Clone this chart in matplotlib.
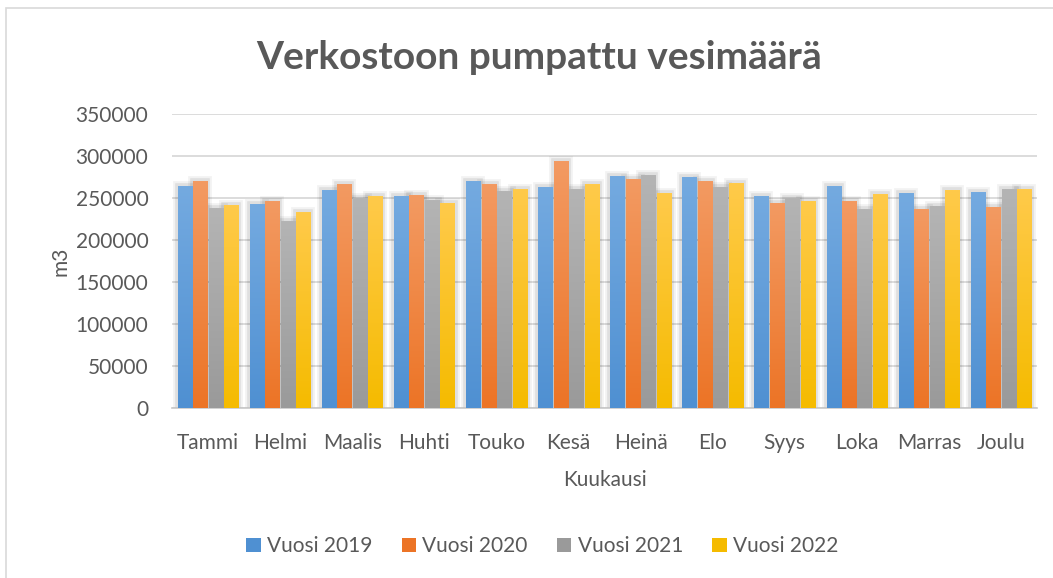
import numpy as np
import matplotlib.pyplot as plt
import matplotlib.patheffects as pe
from matplotlib.colors import LinearSegmentedColormap
from matplotlib.patches import Patch, Rectangle

############################################################
# Data
############################################################
months = ["Tammi", "Helmi", "Maalis", "Huhti", "Touko", "Kesä",
          "Heinä", "Elo", "Syys", "Loka", "Marras", "Joulu"]
series = ["Vuosi 2019", "Vuosi 2020", "Vuosi 2021", "Vuosi 2022"]

v2019 = [263900, 242500, 259200, 252000, 269900, 262700,
         275800, 274700, 252000, 263900, 255600, 256800]
v2020 = [269900, 246100, 266300, 253200, 266300, 293700,
         272300, 269900, 243700, 246100, 236600, 238900]
v2021 = [237700, 222300, 249600, 247300, 258000, 260400,
         277000, 262700, 249600, 236600, 240100, 260400]
v2022 = [241300, 233000, 252000, 243700, 260400, 266300,
         255600, 267500, 246100, 254400, 259200, 260400]

yticks = [0, 50000, 100000, 150000, 200000, 250000, 300000, 350000]

# (top colour, bottom colour) for the Excel style gradient
grad = [("#74aae0", "#4f90d2"),
        ("#f39a62", "#ec7426"),
        ("#b4b4b4", "#9a9a9a"),
        ("#ffca4a", "#f5bb00")]

plt.rcParams['font.family'] = ['Lato', 'DejaVu Sans']
txt = "#595959"

fig = plt.figure(figsize=(10.53, 5.78), dpi=100)
ax = fig.add_axes([0.1633, 0.2941, 0.8215, 0.5087])

# chart border (left / top visible)
fig.patches.append(Rectangle((6 / 1053, -0.5), 2, 1.5 - 8 / 578,
                             transform=fig.transFigure, fill=False,
                             edgecolor="#d9d9d9", lw=1.2))

x = np.arange(len(months))
step = 0.215
width = 0.195
data = [v2019, v2020, v2021, v2022]

for i, vals in enumerate(data):
    cmap = LinearSegmentedColormap.from_list("g%d" % i, [grad[i][1], grad[i][0]])
    pos = x + (i - 1.5) * step
    bars = ax.bar(pos, vals, width, color=grad[i][1], zorder=2,
                  path_effects=[pe.withStroke(linewidth=7, foreground="k", alpha=0.05),
                                pe.withStroke(linewidth=4, foreground="k", alpha=0.08),
                                pe.Normal()])
    for b in bars:
        x0, h, w = b.get_x(), b.get_height(), b.get_width()
        ax.imshow(np.linspace(0, 1, 100).reshape(-1, 1), cmap=cmap,
                  extent=[x0, x0 + w, 0, h], origin="lower",
                  aspect="auto", zorder=3)

ax.set_xlim(-0.5, len(months) - 0.5)
ax.set_ylim(0, 350000)
ax.set_yticks(yticks)
ax.set_yticklabels([str(t) for t in yticks])
ax.set_xticks(x)
ax.set_xticklabels(months)
ax.tick_params(length=0, labelsize=15, colors=txt)
ax.tick_params(axis="y", pad=17)
ax.tick_params(axis="x", pad=18)
ax.grid(axis="y", color="#d9d9d9", lw=1.3, zorder=0)
for s in ["top", "right", "left"]:
    ax.spines[s].set_visible(False)
ax.spines["bottom"].set_color("#c8c8c8")
ax.spines["bottom"].set_linewidth(1.2)

ax.set_ylabel("m3", fontsize=15, color=txt, labelpad=4)
ax.set_xlabel("Kuukausi", fontsize=15, color=txt, labelpad=12)

fig.text(0.512, 0.901, "Verkostoon pumpattu vesimäärä", ha="center", va="center",
         fontsize=28, fontweight="bold", color=txt)

handles = [Patch(facecolor=grad[i][1], edgecolor="none") for i in range(4)]
fig.legend(handles, series, loc="center", bbox_to_anchor=(0.515, 0.055),
           ncol=4, frameon=False, fontsize=15, labelcolor=txt,
           handlelength=0.7, handleheight=0.7, handletextpad=0.3,
           columnspacing=1.4)

plt.savefig("out.png", dpi=100)
